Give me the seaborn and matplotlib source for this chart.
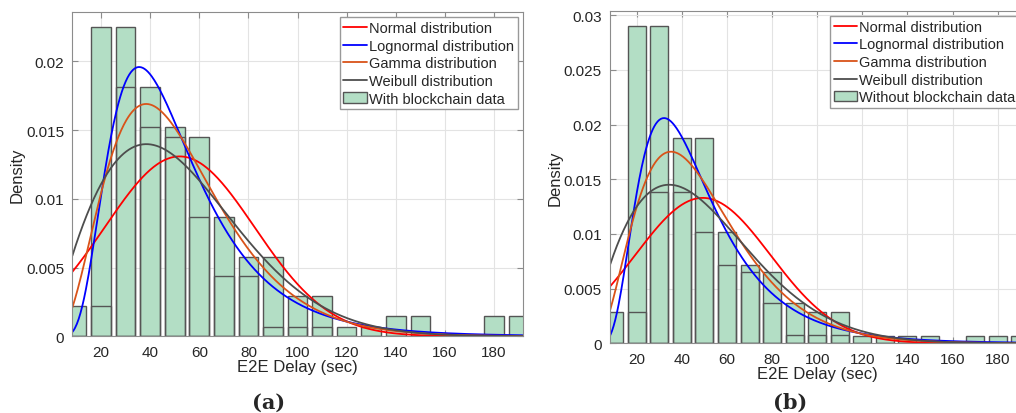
import math
import numpy as np
import pandas as pd
import matplotlib
matplotlib.use("Agg")
import matplotlib.pyplot as plt
import seaborn as sns
from matplotlib.patches import Patch
from matplotlib.lines import Line2D

# ===============================
# Data
# ===============================

bin_centers = [10, 20, 30, 40, 50, 60, 70, 80, 90, 100, 110, 120, 130, 140, 150, 160, 170, 180, 190]
bin_edges = [5 + 10 * i for i in range(20)]

# (a) with blockchain
dens_with = [0.0022, 0.0225, 0.0225, 0.0181, 0.0152, 0.0145, 0.0087, 0.0058, 0.0058, 0.0029,
             0.0029, 0.0007, 0.0007, 0.0015, 0.0015, 0, 0, 0.0015, 0.0015]
inner_with = [0, 0.0022, 0.0181, 0.0152, 0.0145, 0.0087, 0.0044, 0.0044, 0.0007, 0.0007,
              0.0007, 0, 0, 0, 0, 0, 0, 0, 0]

# (b) without blockchain
dens_without = [0.0029, 0.0290, 0.0290, 0.0188, 0.0188, 0.0102, 0.0072, 0.0065, 0.0037, 0.0029,
                0.0029, 0.0007, 0.0007, 0.0007, 0.0007, 0, 0.0007, 0.0007, 0.0007]
inner_without = [0, 0.0029, 0.0138, 0.0138, 0.0102, 0.0072, 0.0065, 0.0037, 0.0008, 0.0008,
                 0.0008, 0, 0, 0, 0, 0, 0, 0, 0]

# fitted distribution parameters (estimated from curve peaks)
normal_with = (52.0, 30.5)        # mu, sigma
lognormal_with = (3.825, 0.505)   # mu, sigma (log)
gamma_with = (3.8, 13.7)          # shape, scale
weibull_with = (1.85, 58.5)       # shape, scale

normal_without = (49.3, 30.0)
lognormal_without = (3.745, 0.5255)
gamma_without = (3.55, 13.8)
weibull_without = (1.77, 55.0)

dist_names = ["Normal distribution", "Lognormal distribution", "Gamma distribution", "Weibull distribution"]
dist_colors = ["#ff0000", "#0000ff", "#d95319", "#4d4d4d"]

# ===============================
# Style
# ===============================

sns.set_theme(style="whitegrid")
plt.rcParams["font.family"] = ["Liberation Sans", "DejaVu Sans"]
plt.rcParams["axes.axisbelow"] = True

bar_color = "#b3dec5"
edge_color = "#555555"
spine_color = "#8c8c8c"
text_color = "#262626"


def pdfs(x, normal, lognormal, gamma, weibull):
    mu, s = normal
    y_norm = np.exp(-0.5 * ((x - mu) / s) ** 2) / (s * np.sqrt(2 * np.pi))
    lm, ls = lognormal
    y_logn = np.exp(-(np.log(x) - lm) ** 2 / (2 * ls ** 2)) / (x * ls * np.sqrt(2 * np.pi))
    k, th = gamma
    y_gam = np.exp((k - 1) * np.log(x) - x / th - math.lgamma(k) - k * np.log(th))
    c, lam = weibull
    y_wei = (c / lam) * (x / lam) ** (c - 1) * np.exp(-(x / lam) ** c)
    return [y_norm, y_logn, y_gam, y_wei]


def panel(ax, dens, inner, params, ylim, yticks, ylabels, hist_label):
    xlim = (8.3, 191.7)
    df = pd.DataFrame({"x": bin_centers, "d": dens, "i": inner})
    main = df[df["d"] > 0]
    sns.histplot(x=main["x"], weights=main["d"], bins=bin_edges, shrink=0.8, ax=ax,
                 color=bar_color, alpha=1, edgecolor=edge_color, linewidth=1.0)
    sec = df[df["i"] > 0]
    sns.histplot(x=sec["x"], weights=sec["i"], bins=bin_edges, shrink=0.8, ax=ax,
                 fill=False, color=edge_color, linewidth=1.0)

    x = np.linspace(xlim[0], xlim[1], 500)
    curves = pdfs(x, *params)
    for y, name, col in zip(curves, dist_names, dist_colors):
        sns.lineplot(x=x, y=y, ax=ax, color=col, linewidth=1.3, label=name)

    ax.set_xlim(*xlim)
    ax.set_ylim(*ylim)
    ax.set_xticks(range(20, 181, 20))
    ax.set_yticks(yticks)
    ax.set_yticklabels(ylabels)
    ax.grid(True, color="#e3e3e3", linewidth=0.8)
    for sp in ax.spines.values():
        sp.set_color(spine_color)
        sp.set_linewidth(0.8)
    ax.tick_params(direction="in", length=4, width=0.8, color=spine_color,
                   labelsize=11, labelcolor=text_color, pad=6,
                   top=True, right=True, bottom=True, left=True)
    ax.set_xlabel("E2E Delay (sec)", fontsize=12, color=text_color, labelpad=0)
    ax.set_ylabel("Density", fontsize=12, color=text_color, labelpad=1)

    handles = [Line2D([0], [0], color=c, linewidth=1.3) for c in dist_colors]
    handles.append(Patch(facecolor=bar_color, edgecolor=edge_color, linewidth=1.0))
    ax.legend(handles, dist_names + [hist_label], loc="upper right", fontsize=10.5,
              frameon=True, fancybox=False, framealpha=1, edgecolor="#999999",
              borderaxespad=0.35, handlelength=1.6, handletextpad=0.15,
              labelspacing=0.25, borderpad=0.25)


fig = plt.figure(figsize=(10.16, 4.14), dpi=100)
ax1 = fig.add_axes([0.0712, 0.1853, 0.4433, 0.7826])
ax2 = fig.add_axes([0.6007, 0.1684, 0.4073, 0.8028])

panel(ax1, dens_with, inner_with,
      (normal_with, lognormal_with, gamma_with, weibull_with),
      (0, 0.02356), [0, 0.005, 0.01, 0.015, 0.02],
      ["0", "0.005", "0.01", "0.015", "0.02"], "With blockchain data")

panel(ax2, dens_without, inner_without,
      (normal_without, lognormal_without, gamma_without, weibull_without),
      (0, 0.0304), [0, 0.005, 0.01, 0.015, 0.02, 0.025, 0.03],
      ["0", "0.005", "0.01", "0.015", "0.02", "0.025", "0.03"], "Without blockchain data")

fig.text(0.264, 0.004, "(a)", fontsize=15, fontweight="bold", family="DejaVu Serif",
         ha="center", va="bottom")
fig.text(0.778, 0.004, "(b)", fontsize=15, fontweight="bold", family="DejaVu Serif",
         ha="center", va="bottom")

fig.savefig("out.png", dpi=100)
